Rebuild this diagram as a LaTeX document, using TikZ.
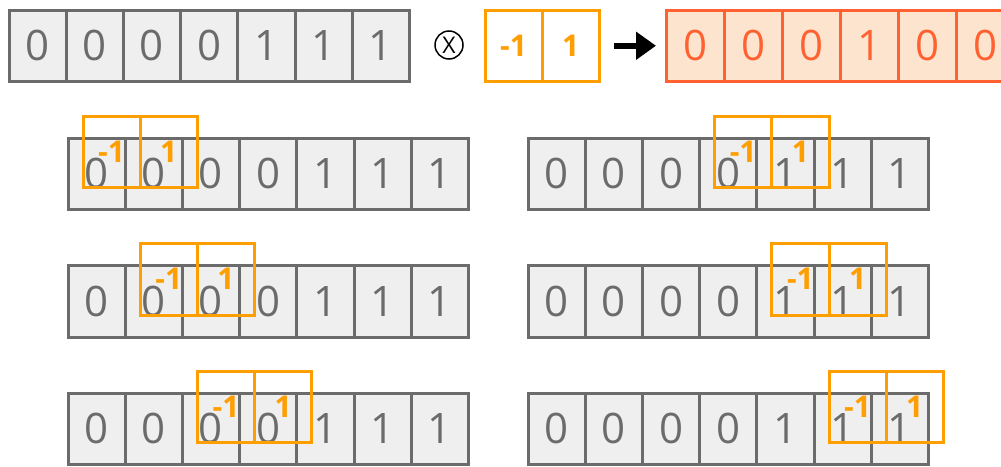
\documentclass[tikz,border=0pt]{standalone}
\usepackage{fontspec}
\setmainfont{Open Sans}
\usetikzlibrary{arrows.meta}
\usetikzlibrary{positioning}

\definecolor{cellgray}{HTML}{6B6B6B}
\definecolor{cellfill}{HTML}{EFEFEF}
\definecolor{kernorange}{HTML}{FF9E00}
\definecolor{outred}{HTML}{FF6230}
\definecolor{outfill}{HTML}{FCE4CF}

\tikzset{
  cell/.style={draw=cellgray, fill=cellfill, line width=3pt, text=cellgray,
    minimum width=57.2pt, minimum height=71.5pt, inner sep=0pt, outer sep=0pt,
    anchor=north west, font=\fontsize{42}{42}\selectfont},
  kcell/.style={draw=kernorange, line width=3pt, text=kernorange,
    minimum width=57.2pt, minimum height=71.5pt, inner sep=0pt, outer sep=0pt,
    anchor=north west, font=\fontsize{30}{30}\selectfont\bfseries},
  ocell/.style={cell, draw=outred, fill=outfill, text=outred, minimum width=58pt},
  opsign/.style={circle, draw, line width=1.5pt, minimum size=28pt, inner sep=0pt,
    font=\fontsize{23}{23}\selectfont},
}

\begin{document}
\begin{tikzpicture}[x=1pt, y=-1pt]
  \useasboundingbox (0,0) rectangle (1001,466);
  \clip (0,0) rectangle (1001,466);

  % input, kernel and result
  \foreach \d [count=\i from 0] in {0,0,0,0,1,1,1}
    \node[cell] (in\i) at ({9+57.2*\i},10) {\d};
  \node[opsign] (op) at (449,45) {X};
  \node[kcell] (ka) at (485,10) {-1};
  \node[kcell, right=0pt of ka] (kb) {1};
  \foreach \d [count=\i from 0] in {0,0,0,1,0,0}
    \node[ocell] (out\i) at ({666+58*\i},10) {\d};
  \draw[-{Triangle[length=20pt, width=27pt]}, line width=6pt,
    shorten <=15pt, shorten >=10pt] (kb.east) -- (out0.west);

  % sliding steps
  \foreach \r/\x/\y/\k in {a/68/138/0, b/528/138/3, c/68/265.5/1,
                           d/528/265.5/4, e/68/393/2, f/528/393/5} {
    \foreach \d [count=\i from 0] in {0,0,0,0,1,1,1}
      \node[cell] (\r\i) at ({\x+57.2*\i},\y) {\d};
    \node[kcell] (k\r1) at ([xshift=15pt, yshift=22pt]\r\k.north west) {-1};
    \node[kcell, right=0pt of k\r1] (k\r2) {1};
  }
\end{tikzpicture}
\end{document}
